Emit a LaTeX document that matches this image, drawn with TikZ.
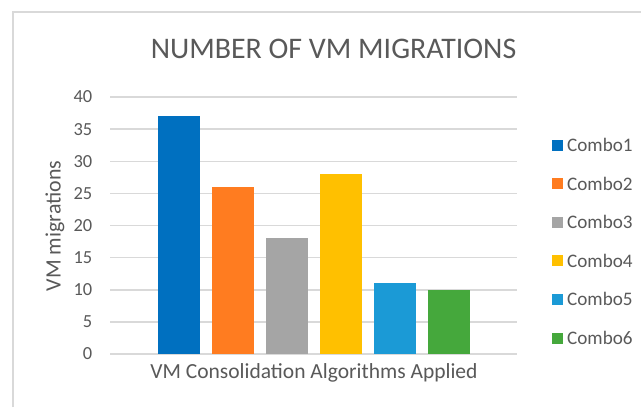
\documentclass[tikz,border=0pt]{standalone}
\usepackage{fontspec}
\setmainfont{Carlito}
\definecolor{txt}{HTML}{595959}
\definecolor{gridc}{HTML}{D9D9D9}
\definecolor{cA}{HTML}{0070C0}
\definecolor{cB}{HTML}{FF7C20}
\definecolor{cC}{HTML}{A5A5A5}
\definecolor{cD}{HTML}{FFC000}
\definecolor{cE}{HTML}{1B9AD6}
\definecolor{cF}{HTML}{45A83C}
\tikzset{
  gridline/.style={draw=gridc, line width=1.5bp},
  ticklab/.style={anchor=east, inner sep=0pt, text=txt, font=\fontsize{18.5}{18.5}\selectfont},
  bar/.style={rectangle, inner sep=0pt, minimum width=42bp, anchor=south west},
  keybox/.style={rectangle, inner sep=0pt, minimum size=11bp},
  keylab/.style={anchor=west, inner sep=0pt, text=txt, font=\fontsize{19.2}{19.2}\selectfont},
}
\begin{document}
\begin{tikzpicture}[x=1bp,y=-1bp]
\useasboundingbox (0,0) rectangle (641,407);
\fill[white] (0,0) rectangle (641,407);
\draw[gridline] (13,407) -- (13,12) -- (641,12);
\foreach \v in {0,5,...,40}{
  \draw[gridline] (110,{354-6.425*\v}) -- (517,{354-6.425*\v});
  \node[ticklab] (tick\v) at (92.5,{354-6.425*\v}) {\v};
}
\foreach \i/\v/\c in {1/37/cA,2/26/cB,3/18/cC,4/28/cD,5/11/cE,6/10/cF}{
  \node[bar, fill=\c, minimum height={6.425bp*\v}] (bar\i) at ({158+54*(\i-1)},354) {};
  \node[keybox, fill=\c] (key\i) at (557.5,{145+38.6*(\i-1)}) {};
  \node[keylab] (lab\i) at (567,{145+38.6*(\i-1)}) {Combo\i};
}
\node[text=txt, inner sep=0pt, font=\fontsize{30}{30}\selectfont] (title) at (333.5,49) {NUMBER OF VM MIGRATIONS};
\node[text=txt, inner sep=0pt, font=\fontsize{21.6}{21.6}\selectfont] (xtitle) at (314,373) {VM Consolidation Algorithms Applied};
\node[text=txt, inner sep=0pt, rotate=90, font=\fontsize{22}{22}\selectfont] (ytitle) at (55,226) {VM migrations};
\end{tikzpicture}
\end{document}
